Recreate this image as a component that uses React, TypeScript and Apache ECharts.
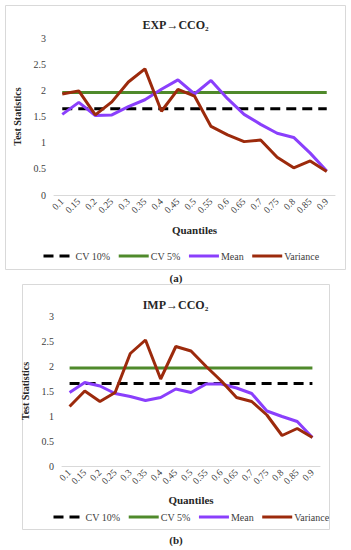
import React, { useEffect, useRef } from "react";
import * as echarts from "echarts";

const categories = ["0.1", "0.15", "0.2", "0.25", "0.3", "0.35", "0.4", "0.45", "0.5", "0.55", "0.6", "0.65", "0.7", "0.75", "0.8", "0.85", "0.9"];

const cv10 = [1.65, 1.65, 1.65, 1.65, 1.65, 1.65, 1.65, 1.65, 1.65, 1.65, 1.65, 1.65, 1.65, 1.65, 1.65, 1.65, 1.65];
const cv5 = [1.96, 1.96, 1.96, 1.96, 1.96, 1.96, 1.96, 1.96, 1.96, 1.96, 1.96, 1.96, 1.96, 1.96, 1.96, 1.96, 1.96];

const expMean = [1.54, 1.77, 1.52, 1.53, 1.69, 1.82, 2.02, 2.2, 1.93, 2.19, 1.84, 1.54, 1.35, 1.18, 1.1, 0.8, 0.46];
const expVariance = [1.93, 1.99, 1.53, 1.78, 2.16, 2.41, 1.6, 2.02, 1.89, 1.31, 1.15, 1.02, 1.05, 0.72, 0.52, 0.65, 0.45];

const impMean = [1.47, 1.67, 1.6, 1.45, 1.39, 1.31, 1.37, 1.54, 1.47, 1.64, 1.64, 1.56, 1.45, 1.1, 0.99, 0.89, 0.57];
const impVariance = [1.19, 1.5, 1.29, 1.47, 2.25, 2.52, 1.74, 2.39, 2.3, 1.99, 1.7, 1.37, 1.29, 1.02, 0.61, 0.75, 0.57];

const seriesNames = ["CV 10%", "CV 5%", "Mean", "Variance"];
const titles = ["EXP→CCO₂", "IMP→CCO₂"];
const yTicks = [0, 0.5, 1, 1.5, 2, 2.5, 3];

const FONT = "'Liberation Serif', 'Times New Roman', serif";
const COLORS = { cv10: "#000000", cv5: "#4f8a2b", mean: "#8a3ffc", variance: "#9c2a0c" };

export default function App() {
  const ref = useRef<HTMLDivElement>(null);
  useEffect(() => {
    if (!ref.current) return;
    const chart = echarts.init(ref.current, undefined, { renderer: "svg" });

    const grids = [
      { left: 54, top: 38, width: 281, height: 157 },
      { left: 62, top: 316, width: 258, height: 150 },
    ];

    const makeX = (gi: number, gap: number) => ({
      type: "category",
      gridIndex: gi,
      data: categories,
      boundaryGap: true,
      axisLine: { show: true, lineStyle: { color: "#d9d9d9", width: 1 } },
      axisTick: { show: false },
      axisLabel: { interval: 0, rotate: 45, fontSize: 9.5, color: "#404040", fontFamily: FONT, margin: 5 },
      name: "Quantiles",
      nameLocation: "middle",
      nameGap: gap,
      nameTextStyle: { fontFamily: FONT, fontWeight: "bold", fontSize: 11, color: "#262626" },
      splitLine: { show: false },
    });

    const makeY = (gi: number, gap: number) => ({
      type: "value",
      gridIndex: gi,
      min: yTicks[0],
      max: yTicks[yTicks.length - 1],
      interval: 0.5,
      axisLine: { show: false },
      axisTick: { show: false },
      splitLine: { show: false },
      axisLabel: { fontSize: 10, color: "#404040", fontFamily: FONT, margin: 8 },
      name: "Test Statistics",
      nameLocation: "middle",
      nameRotate: 90,
      nameGap: gap,
      nameTextStyle: { fontFamily: FONT, fontWeight: "bold", fontSize: 10, color: "#262626" },
    });

    const makeSeries = (gi: number, mean: number[], variance: number[]) => [
      { name: seriesNames[0], type: "line", xAxisIndex: gi, yAxisIndex: gi, data: cv10, symbol: "none", lineStyle: { color: COLORS.cv10, width: 3, type: [10, 6] }, itemStyle: { color: COLORS.cv10 } },
      { name: seriesNames[1], type: "line", xAxisIndex: gi, yAxisIndex: gi, data: cv5, symbol: "none", lineStyle: { color: COLORS.cv5, width: 3 }, itemStyle: { color: COLORS.cv5 } },
      { name: seriesNames[2], type: "line", xAxisIndex: gi, yAxisIndex: gi, data: mean, symbol: "none", lineStyle: { color: COLORS.mean, width: 3 }, itemStyle: { color: COLORS.mean } },
      { name: seriesNames[3], type: "line", xAxisIndex: gi, yAxisIndex: gi, data: variance, symbol: "none", lineStyle: { color: COLORS.variance, width: 3 }, itemStyle: { color: COLORS.variance } },
    ];

    const makeLegend = (left: number, top: number) => ({
      data: seriesNames,
      left,
      top,
      orient: "horizontal",
      itemWidth: 30,
      itemHeight: 4,
      itemGap: 7,
      itemStyle: { opacity: 0 },
      lineStyle: { width: 3 },
      textStyle: { fontFamily: FONT, fontSize: 10, color: "#404040", padding: [0, 0, 0, -3] },
    });

    chart.setOption({
      animation: false,
      backgroundColor: "#ffffff",
      title: [
        { text: titles[0], left: "center", top: 14, textStyle: { fontFamily: FONT, fontWeight: "bold", fontSize: 12, color: "#262626" } },
        { text: titles[1], left: "center", top: 294, textStyle: { fontFamily: FONT, fontWeight: "bold", fontSize: 12, color: "#262626" } },
      ],
      grid: grids,
      xAxis: [makeX(0, 29), makeX(1, 28)],
      yAxis: [makeY(0, 21), makeY(1, 18)],
      legend: [makeLegend(37, 246), makeLegend(47, 507)],
      series: [...makeSeries(0, expMean, expVariance), ...makeSeries(1, impMean, impVariance)],
      graphic: [
        { type: "rect", shape: { x: 5.5, y: 5.5, width: 340, height: 264 }, style: { fill: "none", stroke: "#d9d9d9", lineWidth: 1 }, silent: true },
        { type: "rect", shape: { x: 22.5, y: 284.5, width: 307, height: 245 }, style: { fill: "none", stroke: "#d9d9d9", lineWidth: 1 }, silent: true },
        { type: "text", x: 176, y: 278, style: { text: "(a)", fontFamily: FONT, fontSize: 11, fontWeight: "bold", fill: "#262626", align: "center", verticalAlign: "middle" } },
        { type: "text", x: 176, y: 540, style: { text: "(b)", fontFamily: FONT, fontSize: 11, fontWeight: "bold", fill: "#262626", align: "center", verticalAlign: "middle" } },
      ],
    });

    return () => chart.dispose();
  }, []);

  return <div ref={ref} style={{ position: "absolute", left: 0, top: 0, width: 351, height: 550 }} />;
}
